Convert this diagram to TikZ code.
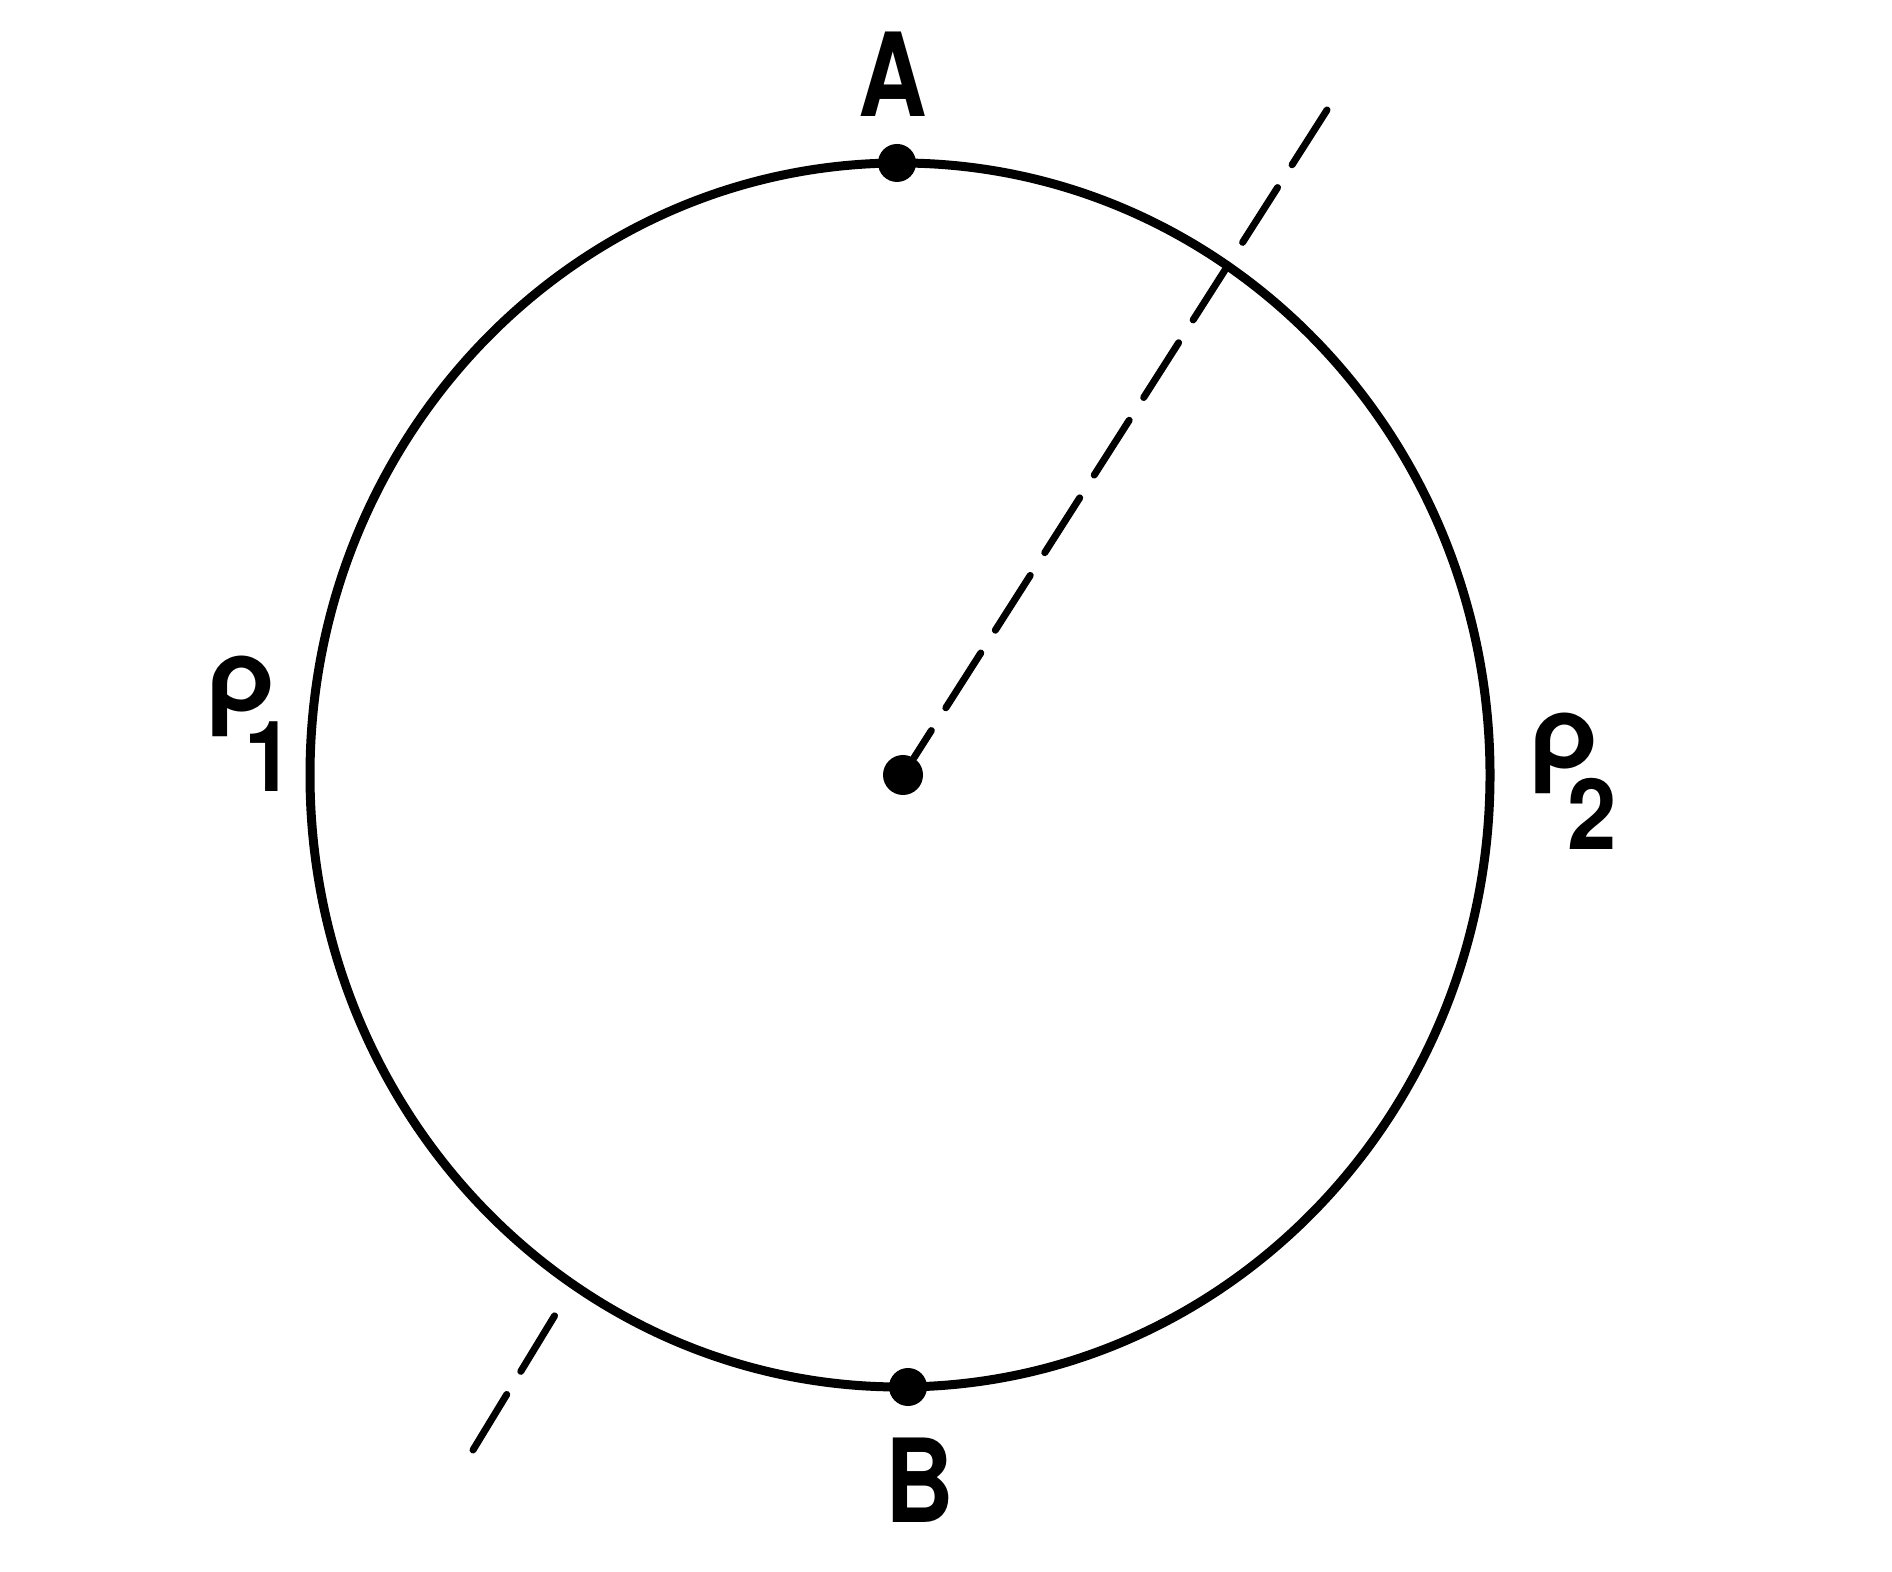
\documentclass[tikz,border=0pt]{standalone}
\usepackage{fontspec}
\setmainfont{TeX Gyre Heros}
\usepackage{tikz}

\newcommand{\narrow}[1]{\scalebox{0.82}[1]{#1}}
\newcommand{\rholabel}[2]{\fontsize{30}{34}\selectfont ρ\kern-0.33cm\raisebox{#2}{\fontsize{28}{30}\selectfont\scalebox{0.9}[1]{#1}}}

\tikzset{
  dot/.style={circle, fill, inner sep=0pt, minimum size=0.38cm},
  lbl/.style={inner sep=0pt, font=\bfseries\fontsize{33}{38}\selectfont},
  axis/.style={line width=0.07cm, line cap=round, dash pattern=on 0.65cm off 0.27cm}
}

\begin{document}
\begin{tikzpicture}
  \useasboundingbox (0, 0) rectangle (18.92, 15.71);

  % Circle
  \draw [line width=0.09cm] (9.0, 7.96) ellipse [x radius=5.90, y radius=6.12];

  % Points on the circle and the centre
  \node [dot] (A) at (8.97, 14.08) {};
  \node [dot] (B) at (9.08, 1.84) {};
  \node [dot, minimum size=0.4cm] (O) at (9.03, 7.96) {};

  % Labels
  \node [lbl, anchor=base] (labA) at (8.93, 14.54) {\narrow{A}};
  \node [lbl, anchor=base] (labB) at (9.20, 0.49) {\narrow{B}};
  \node [lbl, anchor=base west] (rho1) at (2.06, 8.58) {\rholabel{1}{-0.79cm}};
  \node [lbl, anchor=base west] (rho2) at (15.29, 8.01) {\rholabel{2}{-0.80cm}};

  % Dashed line through the centre
  \coordinate (P) at (13.27, 14.61);
  \coordinate (Q1) at (5.66, 2.74);
  \coordinate (Q2) at (4.73, 1.21);
  \draw [axis] (P) -- (O);
  \draw [axis] (Q2) -- (Q1);
\end{tikzpicture}
\end{document}
